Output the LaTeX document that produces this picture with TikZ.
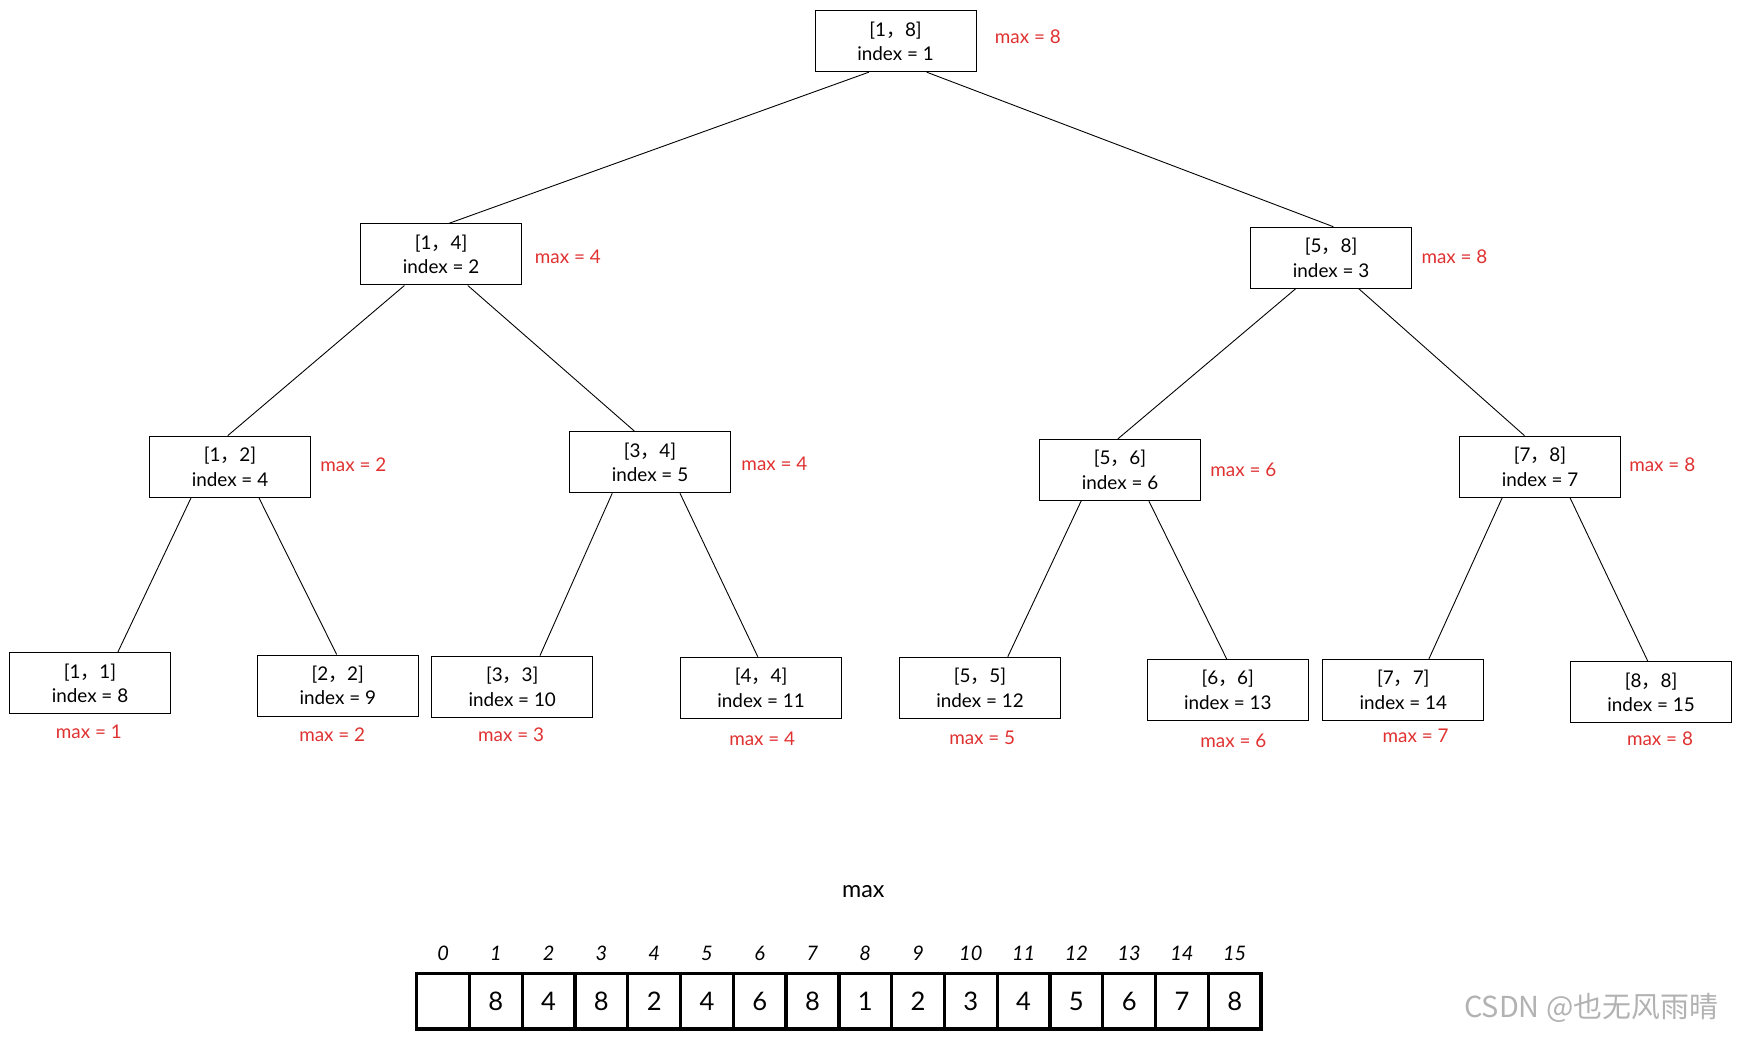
\documentclass[tikz,border=0pt]{standalone}
\usepackage{fontspec}
\setmainfont{Lato}
\newfontfamily\cjk{Noto Sans CJK SC}
\definecolor{mred}{HTML}{E03131}
\newcommand{\fc}{{\cjk ，}}
\begin{document}
\begin{tikzpicture}[x=1pt,y=-1pt,
  box/.style={draw,line width=0.9pt,minimum width=145pt,minimum height=55pt,align=center,font=\fontsize{17}{22}\selectfont,inner sep=0pt},
  mx/.style={text=mred,font=\fontsize{17}{20}\selectfont,inner sep=0pt},
  edge/.style={line width=0.8pt},
  cell/.style={draw,line width=3pt,minimum width=47.5pt,minimum height=50pt,inner sep=0pt,font=\fontsize{23}{26}\selectfont},
  idx/.style={font=\fontsize{18}{20}\selectfont\itshape,inner sep=0pt}]
\useasboundingbox (0,0) rectangle (1566,933);
\node[box] (n1) at (806,37) {[1\fc 8]\\index = 1};
\node[mx] at (925,33) {max = 8};
\node[box] (n2) at (397,229) {[1\fc 4]\\index = 2};
\node[mx] at (511,231) {max = 4};
\node[box] (n3) at (1198,232) {[5\fc 8]\\index = 3};
\node[mx] at (1309,231) {max = 8};
\node[box] (n4) at (207,420) {[1\fc 2]\\index = 4};
\node[mx] at (318,418) {max = 2};
\node[box] (n5) at (585,416) {[3\fc 4]\\index = 5};
\node[mx] at (697,417) {max = 4};
\node[box] (n6) at (1008,423) {[5\fc 6]\\index = 6};
\node[mx] at (1119,423) {max = 6};
\node[box] (n7) at (1386,420) {[7\fc 8]\\index = 7};
\node[mx] at (1496,418) {max = 8};
\foreach \i/\x/\y/\a/\b/\mxx/\mxy/\m in {8/81/615/1/1/80/659/1, 9/304/617/2/2/299/661/2, 10/461/618/3/3/460/661/3, 11/685/619/4/4/686/665/4, 12/882/619/5/5/884/664/5, 13/1105/621/6/6/1110/667/6, 14/1263/621/7/7/1274/662/7, 15/1486/623/8/8/1494/665/8}{
  \node[box] (n\i) at (\x,\y) {[\a\fc \b]\\index = \i};
  \node[mx] at (\mxx,\mxy) {max = \m};
}
\draw[edge] ([xshift=-24pt]n1.south) -- ([xshift=7pt]n2.north);
\draw[edge] ([xshift=28pt]n1.south) -- ([xshift=2pt]n3.north);
\draw[edge] ([xshift=-33pt]n2.south) -- ([xshift=-2pt]n4.north);
\draw[edge] ([xshift=24pt]n2.south) -- ([xshift=-14pt]n5.north);
\draw[edge] ([xshift=-32pt]n3.south) -- ([xshift=-2pt]n6.north);
\draw[edge] ([xshift=25pt]n3.south) -- ([xshift=-14pt]n7.north);
\draw[edge] ([xshift=-35pt]n4.south) -- ([xshift=25pt]n8.north);
\draw[edge] ([xshift=26pt]n4.south) -- ([xshift=-1pt]n9.north);
\draw[edge] ([xshift=-34pt]n5.south) -- ([xshift=25pt]n10.north);
\draw[edge] ([xshift=27pt]n5.south) -- ([xshift=-3pt]n11.north);
\draw[edge] ([xshift=-35pt]n6.south) -- ([xshift=25pt]n12.north);
\draw[edge] ([xshift=26pt]n6.south) -- ([xshift=-1pt]n13.north);
\draw[edge] ([xshift=-34pt]n7.south) -- ([xshift=23pt]n14.north);
\draw[edge] ([xshift=27pt]n7.south) -- ([xshift=-3pt]n15.north);
\node[font=\fontsize{21}{24}\selectfont] (title) at (777,802) {max};
\foreach \i/\v in {0/{},1/8,2/4,3/8,4/2,5/4,6/6,7/8,8/1,9/2,10/3,11/4,12/5,13/6,14/7,15/8}{
  \node[cell] (c\i) at ({398.75+47.5*\i},901) {\v};
  \node[idx] (k\i) at ({398.75+47.5*\i},858) {\i};
}
\node[text=gray!60,font=\cjk\fontsize{26}{30}\selectfont,inner sep=0pt] (wm) at (1432,907) {CSDN @也无风雨晴};
\end{tikzpicture}
\end{document}
